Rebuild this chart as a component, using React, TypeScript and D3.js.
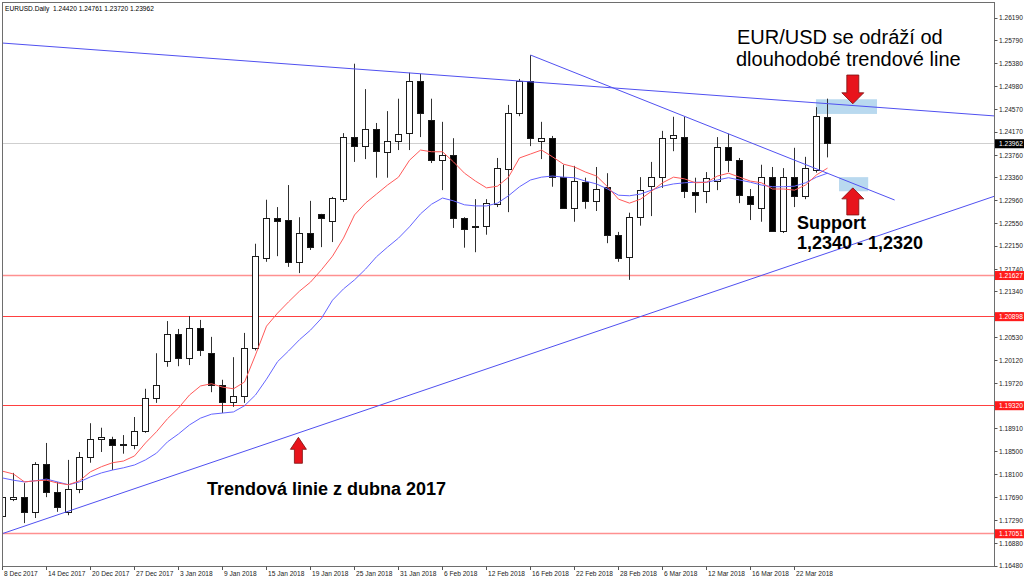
import React from "react";
import * as d3 from "d3";

const dates = [
  "8 Dec 2017","11 Dec 2017","12 Dec 2017","13 Dec 2017","14 Dec 2017","15 Dec 2017","18 Dec 2017","19 Dec 2017",
  "20 Dec 2017","21 Dec 2017","22 Dec 2017","26 Dec 2017","27 Dec 2017","28 Dec 2017","29 Dec 2017","2 Jan 2018",
  "3 Jan 2018","4 Jan 2018","5 Jan 2018","8 Jan 2018","9 Jan 2018","10 Jan 2018","11 Jan 2018","12 Jan 2018",
  "15 Jan 2018","16 Jan 2018","17 Jan 2018","18 Jan 2018","19 Jan 2018","22 Jan 2018","23 Jan 2018","24 Jan 2018",
  "25 Jan 2018","26 Jan 2018","29 Jan 2018","30 Jan 2018","31 Jan 2018","1 Feb 2018","2 Feb 2018","5 Feb 2018",
  "6 Feb 2018","7 Feb 2018","8 Feb 2018","9 Feb 2018","12 Feb 2018","13 Feb 2018","14 Feb 2018","15 Feb 2018",
  "16 Feb 2018","19 Feb 2018","20 Feb 2018","21 Feb 2018","22 Feb 2018","23 Feb 2018","26 Feb 2018","27 Feb 2018",
  "28 Feb 2018","1 Mar 2018","2 Mar 2018","5 Mar 2018","6 Mar 2018","7 Mar 2018","8 Mar 2018","9 Mar 2018",
  "12 Mar 2018","13 Mar 2018","14 Mar 2018","15 Mar 2018","16 Mar 2018","19 Mar 2018","20 Mar 2018","21 Mar 2018",
  "22 Mar 2018","23 Mar 2018","26 Mar 2018","27 Mar 2018",
];

const opens = [
  1.1736,1.1765,1.1770,1.1742,1.1827,1.1779,1.1742,1.1783,1.1841,1.1873,1.1873,1.1864,1.1861,1.1887,1.1944,1.2010,
  1.2059,1.2015,1.2068,1.2025,1.1967,1.1937,1.1948,1.2033,1.2192,1.2263,1.2261,1.2185,1.2238,1.2270,1.2259,1.2298,
  1.2408,1.2392,1.2421,1.2380,1.2401,1.2414,1.2506,1.2437,1.2366,1.2376,1.2263,1.2249,1.2249,1.2289,1.2350,1.2449,
  1.2506,1.2401,1.2406,1.2337,1.2282,1.2328,1.2293,1.2318,1.2233,1.2194,1.2265,1.2320,1.2336,1.2405,1.2408,1.2309,
  1.2311,1.2330,1.2390,1.2367,1.2302,1.2281,1.2336,1.2240,1.2337,1.2302,1.2348,1.2442,
];
const highs = [
  1.1776,1.1813,1.1795,1.1832,1.1866,1.1797,1.1836,1.1850,1.1901,1.1893,1.1877,1.1880,1.1912,1.1962,1.2025,1.2082,
  1.2068,1.2091,1.2084,1.2054,1.1978,1.2018,1.2061,1.2219,1.2297,1.2284,1.2323,1.2266,1.2295,1.2272,1.2302,1.2415,
  1.2538,1.2493,1.2433,1.2454,1.2476,1.2522,1.2520,1.2476,1.2435,1.2406,1.2266,1.2298,1.2298,1.2371,1.2465,1.2511,
  1.2553,1.2435,1.2410,1.2359,1.2357,1.2336,1.2355,1.2344,1.2240,1.2274,1.2337,1.2364,1.2419,1.2444,1.2444,1.2336,
  1.2346,1.2408,1.2414,1.2371,1.2316,1.2359,1.2355,1.2353,1.2389,1.2373,1.2461,1.24761,
];
const lows = [
  1.1733,1.1763,1.1724,1.1733,1.1770,1.1744,1.1738,1.1777,1.1831,1.1850,1.1818,1.1847,1.1855,1.1884,1.1937,1.2001,
  1.2002,1.2004,1.2020,1.1956,1.1919,1.1930,1.1937,1.2030,1.2187,1.2197,1.2178,1.2167,1.2208,1.2213,1.2222,1.2293,
  1.2364,1.2369,1.2336,1.2336,1.2385,1.2385,1.2408,1.2362,1.2314,1.2247,1.2212,1.2204,1.2235,1.2284,1.2275,1.2445,
  1.2392,1.2369,1.2320,1.2282,1.2258,1.2281,1.2277,1.2220,1.2187,1.2155,1.2251,1.2268,1.2318,1.2383,1.2300,1.2274,
  1.2291,1.2314,1.2346,1.2291,1.2261,1.2258,1.2240,1.2238,1.2284,1.2298,1.2345,1.23720,
];
const closes = [
  1.1770,1.1770,1.1742,1.1827,1.1779,1.1751,1.1783,1.1841,1.1873,1.1876,1.1861,1.1861,1.1887,1.1944,1.1967,1.2059,
  1.2015,1.2068,1.2029,1.1967,1.1937,1.1948,1.2033,1.2197,1.2263,1.2259,1.2185,1.2238,1.2212,1.2263,1.2300,1.2408,
  1.2392,1.2422,1.2382,1.2401,1.2412,1.2507,1.2449,1.2366,1.2376,1.2263,1.2245,1.2247,1.2291,1.2352,1.2449,1.2506,
  1.2405,1.2406,1.2337,1.2282,1.2330,1.2293,1.2316,1.2233,1.2192,1.2266,1.2314,1.2336,1.2405,1.2410,1.2311,1.2304,
  1.2334,1.2389,1.2367,1.2304,1.2289,1.2336,1.2240,1.2337,1.2302,1.2352,1.2444,1.23962,
];

const maFast = [
  1.1816,1.1811,1.1797,1.1799,1.1800,1.1795,1.1792,1.1799,1.1815,1.1824,1.1831,1.1834,1.1843,1.1866,1.1886,1.1909,
  1.1928,1.1951,1.1967,1.1971,1.1965,1.1962,1.1974,1.2022,1.2073,1.2096,1.2116,1.2135,1.2151,1.2173,1.2197,1.2229,
  1.2270,1.2291,1.2307,1.2323,1.2337,1.2367,1.2385,1.2382,1.2382,1.2364,1.2344,1.2330,1.2318,1.2321,1.2337,1.2371,
  1.2378,1.2385,1.2373,1.2360,1.2355,1.2346,1.2339,1.2320,1.2298,1.2291,1.2298,1.2312,1.2327,1.2337,1.2334,1.2327,
  1.2328,1.2339,1.2344,1.2337,1.2330,1.2327,1.2316,1.2316,1.2314,1.2323,1.2341,1.2353,
];
const maSlow = [
  1.1804,1.1800,1.1797,1.1799,1.1802,1.1797,1.1792,1.1797,1.1806,1.1813,1.1818,1.1822,1.1827,1.1836,1.1848,1.1868,
  1.1882,1.1898,1.1910,1.1917,1.1919,1.1921,1.1932,1.1951,1.1979,1.2010,1.2029,1.2049,1.2066,1.2087,1.2119,1.2139,
  1.2155,1.2174,1.2196,1.2213,1.2229,1.2249,1.2272,1.2289,1.2300,1.2295,1.2288,1.2286,1.2286,1.2291,1.2304,1.2320,
  1.2332,1.2337,1.2339,1.2337,1.2336,1.2330,1.2325,1.2316,1.2305,1.2304,1.2307,1.2314,1.2321,1.2325,1.2327,1.2328,
  1.2328,1.2332,1.2336,1.2332,1.2328,1.2323,1.2320,1.2320,1.2321,1.2327,1.2337,1.2344,
];

const priceTicks = [
  1.26190,1.25790,1.25380,1.24980,1.24570,1.24170,1.23760,1.23360,1.22960,1.22550,1.22150,1.21740,1.21340,
  1.20930,1.20530,1.20120,1.19720,1.19310,1.18910,1.18500,1.18100,1.17690,1.17290,1.16880,1.16480,
];
const levelPrices = [1.21627, 1.20898, 1.19320, 1.17051];
const lastPrice = 1.23962;
const headerText = "EURUSD.Daily  1.24420 1.24761 1.23720 1.23962";

// trend lines: [barIndex1, price1, barIndex2, price2]
const trendLines = [
  [-0.05, 1.25747, 90.23, 1.24454],
  [48, 1.25534, 81.1, 1.22965],
  [-0.05, 1.17051, 90.23, 1.23036],
];
// zones: [barIndex1, barIndex2, priceTop, priceBottom]
const zones = [
  [73.95, 79.5, 1.2475, 1.2449],
  [76.05, 78.7, 1.2337, 1.2312],
];
// arrows: [barIndex, tipPrice, tailPrice, size]
const arrows = [
  [26.9, 1.1876, 1.1830, 0],
  [77.3, 1.2467, 1.2518, 1],
  [77.3, 1.2318, 1.2270, 1],
];

const W = 1024;
const H = 581;
const L = 2, T = 2, R = 995, B = 567;
const FONT = "'Liberation Sans', Arial, sans-serif";

export default function App() {
  const x = d3.scaleLinear().domain([0, 75]).range([2.5, 827.5]);
  const y = d3.scaleLinear().domain([1.1648, 1.2619]).range([566, 18]);
  const snap = (v: number) => Math.round(v - 0.5) + 0.5;

  const lineGen = d3
    .line<number>()
    .x((_, i) => x(i))
    .y((d) => y(d));

  const arrowPath = (a: number[]) => {
    const [bi, tip, tail, size] = a;
    const cx = x(bi);
    const yt = y(tip);
    const yb = y(tail);
    const dir = yb > yt ? 1 : -1;
    const hw = size ? 11 : 8;
    const sw = size ? 6 : 4;
    const hh = size ? 11 : 12;
    const yh = yt + dir * hh;
    return `M${cx},${yt} L${cx + hw},${yh} L${cx + sw},${yh} L${cx + sw},${yb} L${cx - sw},${yb} L${cx - sw},${yh} L${cx - hw},${yh} Z`;
  };

  return (
    <div style={{ position: "absolute", left: 0, top: 0 }}>
      <svg width={W} height={H} style={{ display: "block", background: "#fff" }} fontFamily={FONT}>
        <defs>
          <clipPath id="plot">
            <rect x={L} y={T} width={R - L} height={B - T} />
          </clipPath>
        </defs>
        <rect x={0} y={0} width={W} height={H} fill="#fff" />
        <g clipPath="url(#plot)">
          {zones.map((z, k) => (
            <rect
              key={"z" + k}
              x={x(z[0])}
              y={y(z[2])}
              width={x(z[1]) - x(z[0])}
              height={y(z[3]) - y(z[2])}
              fill="#b9d9ef"
            />
          ))}
          {levelPrices.map((p, k) => (
            <line
              key={"lv" + k}
              x1={L}
              x2={R}
              y1={snap(y(p))}
              y2={snap(y(p))}
              stroke={k === 0 || k === 3 ? "#ff9090" : "#ff4040"}
              strokeWidth={k === 0 || k === 3 ? 1.6 : 1}
            />
          ))}
          <line x1={L} x2={R} y1={snap(y(lastPrice))} y2={snap(y(lastPrice))} stroke="#cfcfcf" strokeWidth={1} />
          {dates.map((d, i) => {
            const cx = x(i);
            const o = opens[i], c = closes[i];
            const top = snap(y(Math.max(o, c)));
            const bot = snap(y(Math.min(o, c)));
            const bull = c >= o;
            return (
              <g key={"c" + i}>
                <line x1={cx} x2={cx} y1={y(highs[i])} y2={y(lows[i])} stroke="#303030" strokeWidth={1} />
                {bot - top < 1 ? (
                  <line x1={cx - 3.5} x2={cx + 3.5} y1={top} y2={top} stroke="#000" strokeWidth={1} />
                ) : (
                  <rect
                    x={cx - 3}
                    y={top}
                    width={6}
                    height={bot - top}
                    fill={bull ? "#fff" : "#000"}
                    stroke="#1a1a1a"
                    strokeWidth={1}
                  />
                )}
              </g>
            );
          })}
          <path d={lineGen(maSlow) || ""} fill="none" stroke="#6464ff" strokeWidth={1} />
          <path d={lineGen(maFast) || ""} fill="none" stroke="#ff5a5a" strokeWidth={1} />
          {trendLines.map((t, k) => (
            <line
              key={"t" + k}
              x1={x(t[0])}
              y1={y(t[1])}
              x2={x(t[2])}
              y2={y(t[3])}
              stroke="#5050f0"
              strokeWidth={1}
            />
          ))}
          {arrows.map((a, k) => (
            <path key={"a" + k} d={arrowPath(a)} fill="#e8141c" stroke="#7a1010" strokeWidth={0.8} />
          ))}
          <text x={737} y={44} fontSize={20} fill="#000">EUR/USD se odráží od</text>
          <text x={736} y={66} fontSize={20} fill="#000">dlouhodobé trendové line</text>
          <text x={797} y={229} fontSize={18} fontWeight="bold" fill="#000">Support</text>
          <text x={797} y={249} fontSize={18} fontWeight="bold" fill="#000">1,2340 - 1,2320</text>
          <text x={207} y={495} fontSize={18} fontWeight="bold" fill="#000">Trendová linie z dubna 2017</text>
        </g>

        {/* frame */}
        <rect x={L + 0.5} y={T + 0.5} width={R - L - 1} height={B - T - 1} fill="none" stroke="#6e6e6e" strokeWidth={1} />
        <text x={5} y={10.5} fontSize={6.6} fill="#000" style={{ whiteSpace: "pre" }}>{headerText}</text>

        {/* price axis */}
        {priceTicks.map((p, k) => (
          <g key={"pt" + k}>
            <line x1={R - 0.5} x2={R + 2.5} y1={snap(y(p))} y2={snap(y(p))} stroke="#555" />
            <text x={R + 4} y={y(p) + 2.4} fontSize={6.6} fill="#222">{p.toFixed(5)}</text>
          </g>
        ))}
        {levelPrices.map((p, k) => (
          <g key={"lb" + k}>
            <rect x={R} y={y(p) - 4.5} width={W - R} height={9} fill="#ff1c1c" />
            <text x={R + 4} y={y(p) + 2.4} fontSize={6.6} fill="#fff">{p.toFixed(5)}</text>
          </g>
        ))}
        <rect x={R} y={y(lastPrice) - 4.5} width={W - R} height={9} fill="#000" />
        <text x={R + 4} y={y(lastPrice) + 2.4} fontSize={6.6} fill="#fff">{lastPrice.toFixed(5)}</text>

        {/* time axis */}
        {dates.map((d, i) =>
          i % 4 === 0 ? (
            <g key={"dt" + i}>
              <line x1={x(i)} x2={x(i)} y1={B - 0.5} y2={B + 3} stroke="#555" />
              <text x={x(i) + 1.5} y={576} fontSize={6.6} fill="#222">{d}</text>
            </g>
          ) : null
        )}
      </svg>
    </div>
  );
}
